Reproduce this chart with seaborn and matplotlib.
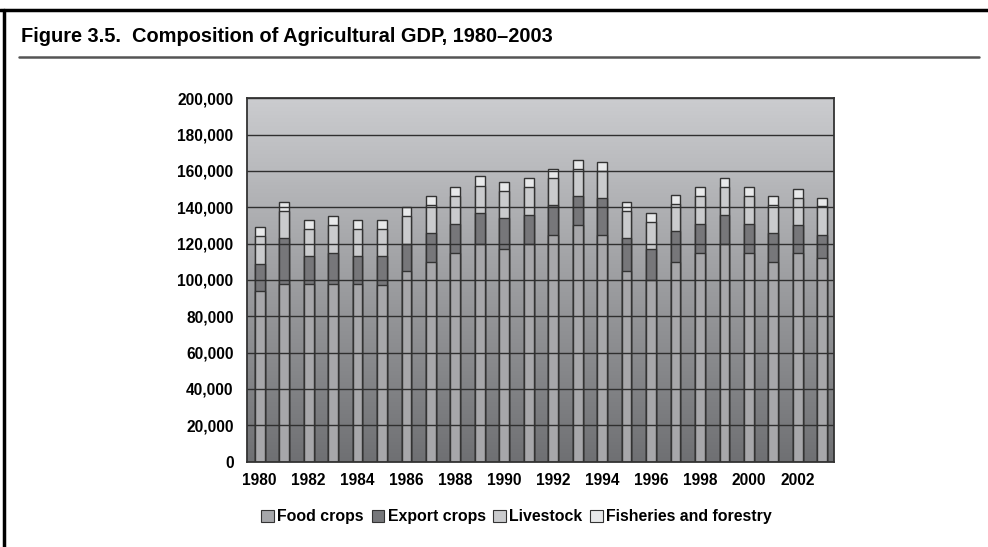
import matplotlib
matplotlib.use("Agg")
import matplotlib.pyplot as plt
import matplotlib.patches as mpatches
import matplotlib.lines as mlines
from matplotlib.colors import LinearSegmentedColormap
import seaborn as sns
import pandas as pd
import numpy as np

sns.set_theme(style="white")
plt.rcParams['font.family'] = ['Liberation Sans', 'DejaVu Sans']
plt.rcParams['text.color'] = 'black'

years = list(range(1980, 2004))
food_crops = [94000, 98000, 98000, 98000, 98000, 97000, 105000, 110000, 115000, 120000,
              117000, 120000, 125000, 130000, 125000, 105000, 100000, 110000, 115000, 120000,
              115000, 110000, 115000, 112000]
export_crops = [15000, 25000, 15000, 17000, 15000, 16000, 15000, 16000, 16000, 17000,
                17000, 16000, 16000, 16000, 20000, 18000, 17000, 17000, 16000, 16000,
                16000, 16000, 15000, 13000]
livestock = [15000, 15000, 15000, 15000, 15000, 15000, 15000, 15000, 15000, 15000,
             15000, 15000, 15000, 15000, 15000, 15000, 15000, 15000, 15000, 15000,
             15000, 15000, 15000, 15500]
fisheries = [5000, 5000, 5000, 5000, 5000, 5200, 5000, 5000, 5000, 5000,
             5000, 5000, 5000, 5000, 5000, 5000, 5000, 5000, 5000, 5000,
             5000, 5000, 5000, 4800]
series_names = ['Food crops', 'Export crops', 'Livestock', 'Fisheries and forestry']
colors = ['#a6a7aa', '#76777a', '#cacbcd', '#e8e9ea']

df = pd.DataFrame({'Year': [str(y) for y in years],
                   'Food crops': food_crops,
                   'Export crops': export_crops,
                   'Livestock': livestock,
                   'Fisheries and forestry': fisheries})
# cumulative heights for stacking
cum = df[series_names].cumsum(axis=1)

fig = plt.figure(figsize=(9.88, 5.47), dpi=100)
ax = fig.add_axes([0.2505, 0.156, 0.5941, 0.6643])

# draw from the tallest stack down so each layer covers the one above it
for name, col in reversed(list(zip(series_names, colors))):
    sns.barplot(x=df['Year'], y=cum[name], color=col, width=0.4,
                edgecolor='#333333', linewidth=1.0, ax=ax, zorder=2)

ax.set_xlim(-0.5, len(years) - 0.5)
ax.set_ylim(0, 200000)

# gradient background
grad = np.linspace(0, 1, 256).reshape(-1, 1)
cmap = LinearSegmentedColormap.from_list('bg', ['#6f7073', '#cbcccf'])
ax.imshow(grad, extent=(-0.5, len(years) - 0.5, 0, 200000), origin='lower',
          aspect='auto', cmap=cmap, zorder=0)

ax.set_yticks(np.arange(0, 200001, 20000))
ax.set_yticklabels([f'{v:,}' for v in range(0, 200001, 20000)])
ax.yaxis.grid(True, color='#2f2f2f', linewidth=1.0, zorder=1)
ax.set_axisbelow(False)
ax.set_xticks(range(len(years)))
ax.set_xticklabels([str(y) if (y % 2 == 0) else '' for y in years])
ax.tick_params(axis='both', length=0, labelsize=11.2, colors='black')
ax.tick_params(axis='y', pad=10)
ax.tick_params(axis='x', pad=8)
for lab in ax.get_xticklabels() + ax.get_yticklabels():
    lab.set_fontweight('bold')
ax.set_xlabel('')
ax.set_ylabel('')
for sp in ax.spines.values():
    sp.set_color('#333333')
    sp.set_linewidth(1.3)
    sp.set_zorder(5)

handles = [mpatches.Patch(facecolor=c, edgecolor='#333333', linewidth=0.8, label=n)
           for n, c in zip(series_names, colors)]
leg = fig.legend(handles=handles, loc='center', bbox_to_anchor=(0.523, 0.055), ncol=4,
                 frameon=False, handlelength=0.8, handleheight=0.8, handletextpad=0.2,
                 columnspacing=0.5, labelcolor='black',
                 prop={'weight': 'bold', 'size': 11.4})

# page frame, title and rule
fig.add_artist(mlines.Line2D([0, 1], [1 - 10 / 547] * 2, color='black', linewidth=2.5,
                             transform=fig.transFigure))
fig.add_artist(mlines.Line2D([4 / 988] * 2, [0, 1 - 10 / 547], color='black', linewidth=2.5,
                             transform=fig.transFigure))
fig.add_artist(mlines.Line2D([19 / 988, 979 / 988], [1 - 57 / 547] * 2, color='#555555',
                             linewidth=1.8, transform=fig.transFigure))
fig.text(21 / 988, 1 - 42.5 / 547, 'Figure 3.5.  Composition of Agricultural GDP, 1980\u20132003',
         family=['Liberation Sans', 'DejaVu Sans'], fontsize=14.45, fontweight='bold',
         ha='left', va='baseline', color='black')

fig.savefig('out.png', dpi=100)
